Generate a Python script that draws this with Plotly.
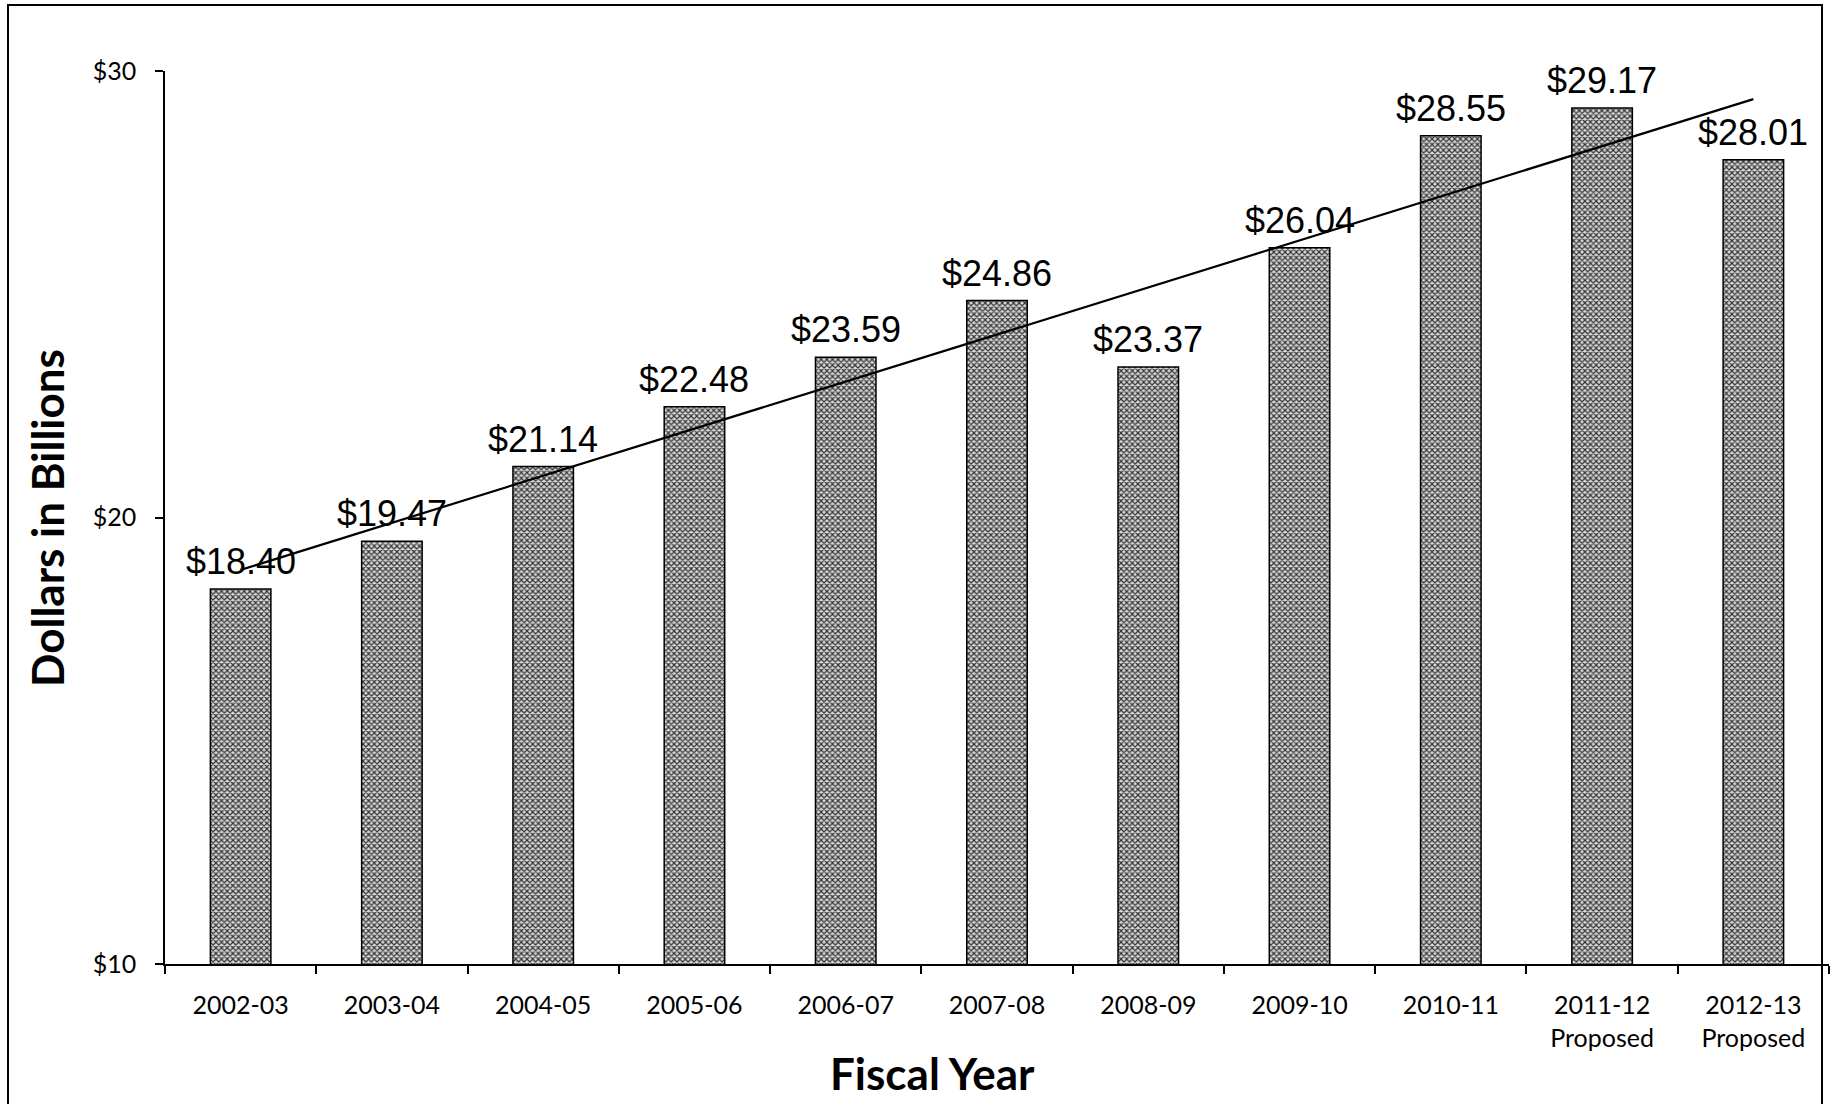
import numpy as np
import plotly.graph_objects as go

# Fiscal years and budget totals (billions of dollars)
years = ["2002-03", "2003-04", "2004-05", "2005-06", "2006-07", "2007-08",
         "2008-09", "2009-10", "2010-11", "2011-12", "2012-13"]
tick_text = ["2002-03", "2003-04", "2004-05", "2005-06", "2006-07", "2007-08",
             "2008-09", "2009-10", "2010-11", "2011-12<br>Proposed", "2012-13<br>Proposed"]
values = [18.40, 19.47, 21.14, 22.48, 23.59, 24.86, 23.37, 26.04, 28.55, 29.17, 28.01]
y_ticks = [10, 20, 30]
y_tick_text = ["$10", "$20", "$30"]

W, H = 1831, 1104
L, R, T, B = 165, 2, 71, 140
plot_w = W - L - R
plot_h = H - T - B

def px_x(p):
    return (p - L) / plot_w

def px_y(p):
    return (H - B - p) / plot_h

# least-squares linear trend across the years
idx = np.arange(len(values))
slope, intercept = np.polyfit(idx, values, 1)
trend_y = [intercept + slope * idx[0], intercept + slope * idx[-1]]

fig = go.Figure()

fig.add_trace(go.Bar(
    x=years,
    y=values,
    marker=dict(
        color="#d4d4d4",
        line=dict(color="black", width=1.5),
        pattern=dict(shape="x", size=4, solidity=0.5, fgcolor="#333333",
                     bgcolor="#d8d8d8", fillmode="replace"),
    ),
    base=0,
    showlegend=False,
    hoverinfo="skip",
))

fig.add_trace(go.Scatter(
    x=[years[0], years[-1]],
    y=trend_y,
    mode="lines",
    line=dict(color="black", width=2.2),
    showlegend=False,
    hoverinfo="skip",
))

label_font = dict(family="Liberation Sans, Arial, sans-serif", size=36, color="black")
annotations = []
for yr, v in zip(years, values):
    annotations.append(dict(
        x=yr, y=v, xref="x", yref="y",
        text=f"${v:.2f}", showarrow=False,
        yanchor="bottom", xanchor="center", yshift=5,
        font=label_font,
    ))

annotations.append(dict(
    x=px_x(932), y=px_y(1073), xref="paper", yref="paper",
    text="<b>Fiscal Year</b>", showarrow=False,
    xanchor="center", yanchor="middle",
    font=dict(family="Lato, sans-serif", size=44, color="black"),
))
annotations.append(dict(
    x=px_x(47), y=px_y(518), xref="paper", yref="paper",
    text="<b>Dollars in Billions</b>", showarrow=False, textangle=-90,
    xanchor="center", yanchor="middle",
    font=dict(family="Lato, sans-serif", size=44, color="black"),
))

# outer frame around the figure
shapes = [dict(
    type="rect", xref="paper", yref="paper",
    x0=px_x(8), x1=px_x(1822), y0=px_y(1115), y1=px_y(5),
    line=dict(color="black", width=2), fillcolor="rgba(0,0,0,0)", layer="above",
)]

tick_font = dict(family="Lato, sans-serif", size=25, color="black")

fig.update_layout(
    width=W, height=H,
    margin=dict(l=L, r=R, t=T, b=B, autoexpand=False),
    paper_bgcolor="white",
    plot_bgcolor="white",
    bargap=0.6,
    annotations=annotations,
    shapes=shapes,
    xaxis=dict(
        type="category",
        tickmode="array",
        tickvals=years,
        ticktext=tick_text,
        tickson="boundaries",
        ticks="outside",
        ticklen=8,
        tickwidth=1.5,
        tickcolor="black",
        showline=True,
        linecolor="black",
        linewidth=2,
        showgrid=False,
        tickfont=tick_font,
        ticklabelstandoff=18,
        range=[-0.5, len(years) - 0.5],
    ),
    yaxis=dict(
        range=[10, 30],
        tickmode="array",
        tickvals=y_ticks,
        ticktext=y_tick_text,
        ticks="outside",
        ticklen=8,
        tickwidth=1.5,
        tickcolor="black",
        showline=True,
        linecolor="black",
        linewidth=1.5,
        showgrid=False,
        zeroline=False,
        tickfont=tick_font,
        ticklabelstandoff=14,
    ),
)

fig.write_html("out.html")
